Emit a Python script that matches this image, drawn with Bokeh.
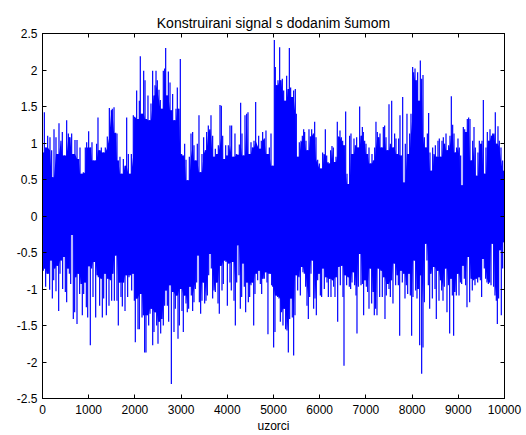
from bokeh.plotting import figure
from bokeh.models import Range1d, FixedTicker, LinearAxis
from bokeh.embed import file_html
from bokeh.resources import INLINE

title_text = "Konstruirani signal s dodanim šumom"
x_label = "uzorci"

# upper peaks (sample index, value)
up_x = [
    5, 40, 68, 112, 162, 198, 213, 249, 292, 321,
    357, 400, 429, 472, 523, 559, 595, 631, 667, 703,
    747, 783, 812, 855, 884, 927, 956, 999, 1042, 1071,
    1100, 1143, 1172, 1201, 1245, 1273, 1317, 1360, 1403, 1447,
    1490, 1511, 1548, 1584, 1612, 1641, 1677, 1713, 1750, 1786,
    1822, 1858, 1894, 1923, 1966, 1995, 2038, 2067, 2096, 2117,
    2154, 2190, 2219, 2255, 2283, 2319, 2348, 2384, 2413, 2435,
    2457, 2485, 2521, 2550, 2586, 2615, 2644, 2666, 2695, 2724,
    2760, 2789, 2817, 2853, 2890, 2918, 2954, 2983, 3012, 3048,
    3077, 3106, 3142, 3178, 3214, 3250, 3279, 3315, 3351, 3387,
    3423, 3452, 3488, 3524, 3553, 3589, 3625, 3647, 3683, 3712,
    3741, 3770, 3806, 3842, 3871, 3900, 3928, 3965, 3986, 4022,
    4058, 4094, 4130, 4166, 4195, 4224, 4260, 4289, 4318, 4354,
    4383, 4419, 4448, 4484, 4513, 4542, 4578, 4614, 4679, 4708,
    4736, 4765, 4801, 4837, 4874, 4910, 4946, 4982, 5018, 5039,
    5068, 5097, 5133, 5162, 5191, 5220, 5249, 5285, 5314, 5343,
    5371, 5400, 5436, 5472, 5494, 5530, 5559, 5595, 5624, 5653,
    5674, 5703, 5739, 5768, 5797, 5826, 5862, 5891, 5920, 5956,
    5992, 6028, 6064, 6093, 6122, 6151, 6180, 6208, 6237, 6266,
    6295, 6324, 6353, 6381, 6410, 6439, 6468, 6497, 6533, 6562,
    6591, 6620, 6648, 6677, 6706, 6742, 6771, 6800, 6829, 6865,
    6894, 6923, 6944, 6973, 7002, 7038, 7067, 7103, 7132, 7161,
    7190, 7218, 7247, 7283, 7305, 7341, 7377, 7406, 7435, 7471,
    7500, 7529, 7558, 7594, 7622, 7651, 7680, 7709, 7738, 7767,
    7796, 7824, 7853, 7889, 7918, 7947, 7976, 8012, 8034, 8063,
    8091, 8120, 8149, 8178, 8207, 8236, 8265, 8301, 8330, 8358,
    8387, 8416, 8445, 8474, 8503, 8532, 8560, 8589, 8618, 8647,
    8676, 8705, 8734, 8762, 8791, 8820, 8849, 8878, 8907, 8936,
    8964, 8993, 9022, 9051, 9080, 9109, 9138, 9166, 9195, 9224,
    9253, 9282, 9311, 9340, 9368, 9397, 9426, 9455, 9484, 9513,
    9542, 9570, 9599, 9628, 9657, 9686, 9715, 9744, 9773, 9801,
    9830, 9859, 9888, 9924, 9960, 9989,
]
up_v = [
    0.87, 1.42, 0.94, 1.10, 1.08, 0.90, 0.53, 1.19, 1.08, 0.85,
    1.27, 1.03, 1.15, 0.83, 1.31, 1.13, 1.08, 1.13, 0.85, 1.04,
    1.04, 0.78, 0.94, 0.58, 0.60, 0.94, 1.01, 1.16, 0.94, 1.01,
    0.76, 0.76, 0.99, 1.35, 0.90, 0.94, 0.87, 0.94, 1.09, 1.48,
    1.45, 1.47, 1.49, 1.14, 1.13, 0.76, 0.81, 0.58, 0.78, 0.69,
    1.35, 0.85, 0.58, 0.85, 1.38, 1.36, 1.72, 1.33, 1.58, 2.19,
    1.40, 1.99, 1.86, 1.33, 1.65, 1.31, 1.54, 1.99, 1.65, 1.79,
    1.99, 1.86, 1.73, 1.59, 1.47, 1.99, 2.02, 2.30, 1.65, 1.98,
    1.83, 1.45, 1.67, 1.31, 1.47, 1.76, 1.47, 2.15, 0.85, 0.83,
    0.99, 0.77, 0.49, 0.81, 1.13, 1.15, 0.97, 0.76, 0.99, 1.38,
    0.60, 0.85, 1.08, 0.90, 1.15, 1.24, 1.19, 1.38, 1.10, 0.81,
    0.92, 0.85, 0.97, 1.52, 1.51, 1.10, 0.78, 0.97, 0.83, 0.97,
    1.24, 1.24, 0.81, 1.13, 0.85, 0.84, 0.98, 1.55, 1.13, 0.83,
    1.38, 1.40, 1.42, 0.85, 1.01, 0.94, 1.03, 1.56, 1.10, 0.92,
    1.03, 1.15, 1.06, 1.17, 0.85, 0.94, 1.13, 0.69, 2.41, 2.04,
    1.79, 1.86, 2.31, 1.86, 1.88, 1.72, 1.58, 1.92, 1.74, 2.30,
    1.76, 1.63, 1.72, 1.74, 1.40, 0.81, 1.01, 1.03, 1.10, 1.19,
    1.15, 1.03, 0.90, 1.19, 1.09, 1.19, 1.13, 1.29, 1.08, 0.77,
    0.72, 0.65, 0.87, 0.85, 1.19, 0.83, 0.74, 0.72, 0.90, 0.96,
    0.94, 0.74, 0.81, 1.29, 1.09, 1.17, 1.08, 1.03, 0.97, 1.43,
    0.58, 0.44, 1.10, 1.13, 0.85, 1.06, 0.97, 1.08, 0.94, 1.50,
    1.10, 1.22, 1.15, 1.03, 0.99, 0.85, 0.94, 0.72, 0.85, 0.76,
    0.94, 1.29, 1.15, 1.08, 1.13, 0.94, 1.22, 1.24, 1.08, 0.90,
    1.53, 0.99, 1.58, 0.94, 1.13, 1.06, 0.85, 1.06, 1.38, 0.83,
    1.63, 0.46, 0.99, 1.40, 0.85, 1.13, 1.40, 2.04, 1.97, 2.02,
    1.86, 1.97, 1.58, 2.13, 1.88, 1.93, 1.08, 0.94, 1.13, 1.41,
    0.87, 0.62, 0.94, 0.85, 0.97, 0.81, 1.03, 1.06, 0.81, 1.03,
    1.08, 0.99, 1.13, 0.90, 0.97, 1.10, 1.64, 1.25, 1.13, 0.87,
    0.94, 1.06, 0.94, 0.83, 0.42, 1.22, 1.19, 1.15, 1.33, 1.35,
    1.33, 0.76, 1.03, 1.22, 0.94, 0.55, 0.87, 1.03, 0.99, 1.03,
    1.59, 0.58, 0.94, 1.15, 1.03, 1.19, 1.10, 1.13, 1.13, 1.42,
    0.99, 1.23, 1.03, 0.94, 0.76, 0.62,
]

# lower peaks (sample index, value)
lo_x = [
    18, 40, 68, 97, 126, 155, 184, 213, 242, 270,
    292, 321, 350, 379, 408, 436, 465, 494, 523, 552,
    581, 610, 638, 667, 696, 725, 747, 776, 804, 833,
    862, 891, 920, 949, 978, 1006, 1035, 1064, 1093, 1122,
    1151, 1180, 1208, 1237, 1266, 1295, 1324, 1353, 1382, 1410,
    1439, 1468, 1497, 1526, 1555, 1584, 1612, 1641, 1670, 1699,
    1728, 1757, 1786, 1814, 1843, 1872, 1901, 1930, 1959, 1988,
    2009, 2038, 2067, 2096, 2125, 2154, 2182, 2211, 2240, 2269,
    2298, 2327, 2356, 2385, 2413, 2442, 2471, 2500, 2529, 2558,
    2587, 2615, 2644, 2673, 2702, 2731, 2760, 2789, 2817, 2846,
    2875, 2904, 2933, 2962, 2991, 3019, 3048, 3077, 3106, 3134,
    3163, 3192, 3221, 3250, 3279, 3308, 3337, 3366, 3395, 3423,
    3452, 3481, 3510, 3539, 3568, 3597, 3625, 3654, 3683, 3712,
    3741, 3770, 3799, 3827, 3856, 3885, 3914, 3943, 3972, 4001,
    4029, 4058, 4087, 4116, 4145, 4174, 4203, 4224, 4253, 4282,
    4311, 4340, 4368, 4397, 4426, 4455, 4484, 4513, 4542, 4571,
    4599, 4628, 4657, 4686, 4715, 4744, 4773, 4801, 4830, 4859,
    4880, 4931, 4960, 4982, 5003, 5032, 5061, 5090, 5119, 5148,
    5177, 5205, 5234, 5263, 5292, 5321, 5350, 5379, 5407, 5436,
    5465, 5494, 5523, 5552, 5581, 5609, 5638, 5667, 5696, 5725,
    5754, 5783, 5811, 5840, 5869, 5898, 5927, 5956, 5985, 6014,
    6042, 6071, 6100, 6129, 6158, 6187, 6216, 6244, 6273, 6302,
    6331, 6360, 6389, 6418, 6446, 6475, 6504, 6526, 6555, 6583,
    6612, 6641, 6670, 6699, 6728, 6757, 6786, 6807, 6836, 6865,
    6894, 6923, 6951, 6980, 7009, 7038, 7067, 7096, 7125, 7153,
    7182, 7211, 7240, 7269, 7298, 7327, 7355, 7384, 7413, 7442,
    7471, 7500, 7529, 7558, 7586, 7615, 7644, 7673, 7702, 7731,
    7760, 7788, 7817, 7846, 7875, 7904, 7933, 7962, 7990, 8019,
    8048, 8077, 8106, 8135, 8164, 8185, 8207, 8236, 8265, 8293,
    8322, 8351, 8380, 8409, 8438, 8467, 8496, 8524, 8553, 8582,
    8611, 8640, 8669, 8697, 8726, 8755, 8784, 8813, 8842, 8871,
    8899, 8928, 8957, 8986, 9015, 9044, 9073, 9102, 9130, 9159,
    9188, 9217, 9246, 9275, 9303, 9332, 9361, 9390, 9419, 9448,
    9477, 9505, 9534, 9563, 9592, 9621, 9650, 9679, 9708, 9736,
    9765, 9794, 9823, 9845, 9873, 9902, 9931, 9960, 9989,
]
lo_v = [
    -0.75, -0.72, -0.97, -0.79, -0.79, -1.01, -0.61, -1.13, -0.88, -0.72,
    -1.03, -0.68, -1.30, -0.79, -0.61, -1.00, -0.56, -1.04, -1.18, -0.72,
    -0.79, -0.93, -0.26, -1.41, -1.32, -0.84, -1.48, -0.79, -1.07, -0.93,
    -1.36, -1.07, -0.91, -1.25, -1.39, -0.69, -1.77, -0.72, -1.11, -0.63,
    -1.39, -0.81, -0.84, -1.23, -0.86, -1.39, -1.13, -0.79, -1.36, -0.86,
    -1.23, -0.88, -1.16, -0.79, -1.16, -0.54, -1.16, -1.50, -0.91, -1.11,
    -1.24, -0.91, -1.30, -0.81, -1.11, -0.84, -0.81, -1.02, -0.79, -1.16,
    -1.73, -1.13, -1.55, -1.55, -1.07, -1.39, -1.36, -1.87, -1.87, -1.36,
    -1.50, -1.34, -1.27, -1.77, -1.59, -1.32, -1.50, -1.75, -1.45, -1.61,
    -1.41, -1.50, -1.23, -1.02, -1.23, -1.45, -0.95, -2.30, -1.04, -1.59,
    -1.27, -1.09, -1.68, -1.50, -1.00, -1.30, -1.59, -1.09, -1.20, -1.32,
    -1.27, -0.97, -1.09, -1.30, -1.18, -1.00, -0.91, -0.54, -1.18, -1.34,
    -1.16, -0.91, -1.20, -1.16, -1.09, -0.81, -0.52, -0.72, -1.13, -1.02,
    -1.04, -0.91, -1.20, -1.34, -0.68, -1.02, -0.93, -0.61, -0.63, -1.23,
    -0.65, -0.91, -1.02, -0.63, -1.16, -1.50, -0.91, -0.40, -0.81, -1.27,
    -1.11, -0.65, -0.97, -1.32, -0.91, -1.18, -1.11, -0.95, -0.91, -1.50,
    -1.07, -0.79, -0.88, -0.75, -0.93, -1.07, -0.86, -0.86, -0.77, -0.91,
    -1.62, -0.79, -0.95, -0.97, -1.80, -1.59, -1.09, -1.11, -1.13, -1.45,
    -1.32, -1.50, -1.27, -1.55, -1.57, -1.87, -1.41, -1.13, -1.39, -1.91,
    -1.36, -0.81, -1.02, -0.84, -1.09, -0.70, -0.77, -0.79, -0.97, -1.23,
    -1.41, -1.11, -0.79, -0.61, -1.27, -1.13, -1.36, -0.88, -0.79, -1.09,
    -1.11, -0.72, -1.00, -0.84, -0.91, -1.11, -0.86, -1.11, -0.88, -0.97,
    -1.11, -0.84, -1.45, -0.70, -0.95, -0.68, -1.11, -2.05, -0.81, -0.95,
    -0.84, -0.97, -1.00, -0.91, -0.77, -0.95, -1.09, -1.61, -0.97, -0.52,
    -0.95, -0.93, -1.36, -0.88, -0.97, -1.04, -1.27, -0.72, -1.20, -1.04,
    -1.36, -1.27, -1.36, -0.72, -1.11, -0.75, -1.11, -0.84, -1.41, -1.09,
    -0.93, -1.00, -1.11, -0.88, -1.20, -0.65, -0.95, -0.81, -0.95, -1.64,
    -0.75, -0.91, -0.79, -1.13, -0.95, -1.07, -0.79, -1.09, -1.64, -1.11,
    -0.61, -1.02, -1.13, -1.00, -1.77, -0.81, -2.16, -1.80, -1.18, -0.38,
    -0.61, -0.95, -1.27, -0.79, -1.13, -0.70, -1.00, -1.41, -0.75, -1.16,
    -0.88, -1.02, -1.16, -0.97, -0.72, -1.32, -0.95, -1.61, -0.86, -1.09,
    -1.64, -1.04, -1.09, -0.79, -1.09, -0.91, -0.93, -0.68, -0.86, -0.95,
    -1.25, -0.56, -1.18, -0.86, -1.02, -0.88, -0.95, -0.86, -0.91, -0.84,
    -0.88, -1.11, -0.59, -0.72, -0.86, -0.91, -0.93, -0.91, -0.95, -0.38,
    -0.97, -1.09, -1.16, -1.48, -1.13, -0.47, -1.36, -0.72, -0.36,
]

x_ticks = [0, 1000, 2000, 3000, 4000, 5000, 6000, 7000, 8000, 9000, 10000]
y_ticks = [-2.5, -2, -1.5, -1, -0.5, 0, 0.5, 1, 1.5, 2, 2.5]

assert len(up_x) == len(up_v), (len(up_x), len(up_v))
assert len(lo_x) == len(lo_v), (len(lo_x), len(lo_v))


def local_core(vals):
    # dense part of the trace: the smallest excursion among each peak and its neighbours
    n = len(vals)
    return [min(vals[max(0, i - 1):min(n, i + 2)], key=abs) for i in range(n)]


core_up = local_core(up_v)
core_lo = local_core(lo_v)
# the upper band reaches down into the lower one so that no seam shows at zero
up_base = [max(core_lo)] * len(up_x)

FONT = "Liberation Sans"
BLUE = "#0000ff"

p = figure(width=526, height=435, output_backend="svg", toolbar_location=None,
           x_range=Range1d(0, 10000), y_range=Range1d(-2.5, 2.5),
           min_border_left=42, min_border_right=22, min_border_top=33,
           min_border_bottom=37, title=title_text,
           background_fill_color="white", border_fill_color="white")

p.title.align = "center"
p.title.text_font = FONT
p.title.text_font_size = "14px"
p.title.text_font_style = "normal"
p.title.text_color = "black"
p.title.standoff = 5

p.xgrid.grid_line_color = None
p.ygrid.grid_line_color = None
p.outline_line_color = "black"
p.outline_line_width = 1
p.outline_line_alpha = 1

p.varea(x=lo_x, y1=[0] * len(lo_x), y2=core_lo, fill_color=BLUE)
p.varea(x=up_x, y1=up_base, y2=core_up, fill_color=BLUE)
p.segment(x0=up_x, y0=[0] * len(up_x), x1=up_x, y1=up_v,
          line_color=BLUE, line_width=1.2)
p.segment(x0=lo_x, y0=[0] * len(lo_x), x1=lo_x, y1=lo_v,
          line_color=BLUE, line_width=1.2)

xt = FixedTicker(ticks=x_ticks)
yt = FixedTicker(ticks=y_ticks)
ylabels = {v: f"{v:g}" for v in y_ticks}
xlabels = {v: str(v) for v in x_ticks}


def style(ax):
    ax.axis_line_color = "black"
    ax.major_tick_line_color = "black"
    ax.major_tick_in = 4
    ax.major_tick_out = 0
    ax.minor_tick_line_color = None
    ax.major_label_text_font = FONT
    ax.major_label_text_font_size = "12px"
    ax.major_label_text_color = "black"


p.xaxis.ticker = xt
p.yaxis.ticker = yt
p.xaxis.major_label_overrides = xlabels
p.yaxis.major_label_overrides = ylabels
style(p.xaxis[0])
style(p.yaxis[0])
p.xaxis.major_label_standoff = 6
p.yaxis.major_label_standoff = 5
p.xaxis.axis_label = x_label
p.xaxis.axis_label_text_font = FONT
p.xaxis.axis_label_text_font_size = "12px"
p.xaxis.axis_label_text_font_style = "normal"
p.xaxis.axis_label_text_color = "black"
p.xaxis.axis_label_standoff = 2

top_ax = LinearAxis(ticker=FixedTicker(ticks=x_ticks),
                    major_label_overrides={v: "" for v in x_ticks})
right_ax = LinearAxis(ticker=FixedTicker(ticks=y_ticks),
                      major_label_overrides={v: "" for v in y_ticks})
for ax in (top_ax, right_ax):
    style(ax)
    ax.major_label_standoff = 0
p.add_layout(top_ax, "above")
p.add_layout(right_ax, "right")

open("out.html", "w").write(file_html(p, INLINE))
